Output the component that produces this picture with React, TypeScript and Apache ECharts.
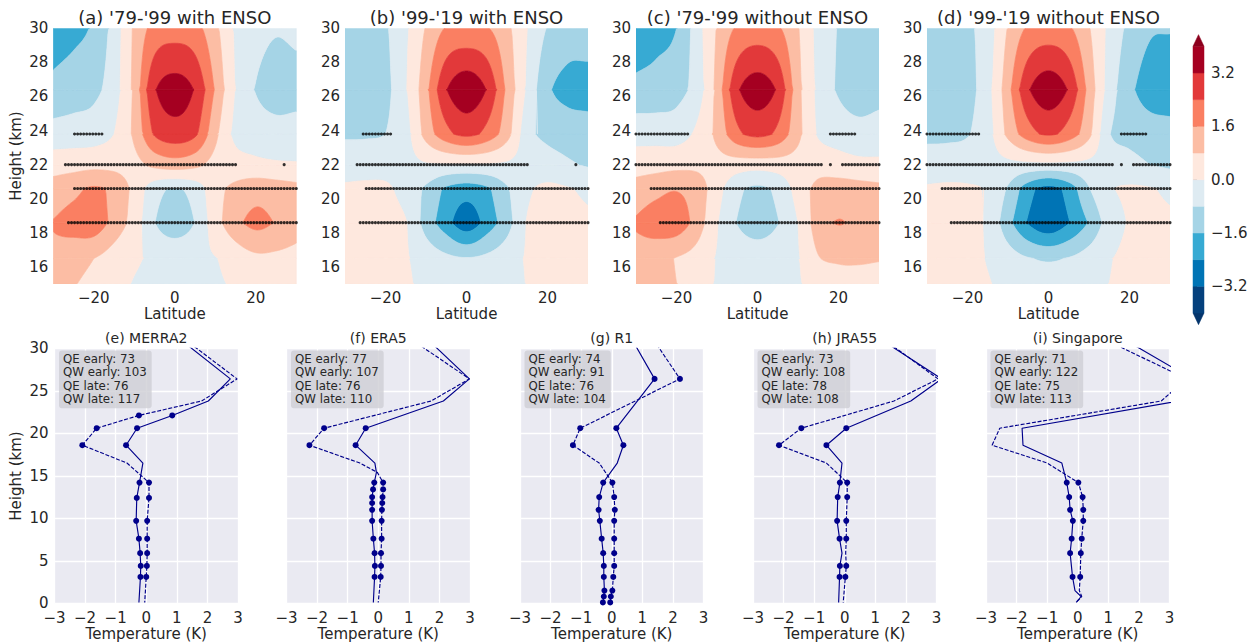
import { useEffect, useRef } from "react";
import * as echarts from "echarts";

// ---------- Regression fields (K) on latitude nodes x pressure-level heights ----------
const LATS = [-30, -25, -20, -15, -10, -5, 0, 5, 10, 15, 20, 25, 30];
const LEVEL_KM = [14.2, 16.5, 18.6, 20.6, 22.0, 23.8, 26.4, 31.0];

// rows run from the lowest level (14.2 km) up to 31 km
const field79to99WithEnso = [
  [0.97, 0.72, 0.42, 0.25, -0.13, -0.18, -0.18, -0.18, -0.14, 0.0, 0.19, 0.25, 0.19],
  [1.45, 1.1, 0.8, 0.4, 0.1, -0.1, -0.1, -0.1, -0.03, 0.3, 0.6, 0.6, 0.5],
  [1.65, 1.95, 2.1, 1.3, 0.45, -0.78, -1.35, -0.78, 0.45, 1.35, 1.85, 1.55, 1.2],
  [1.15, 1.4, 1.7, 1.4, 0.55, -0.5, -0.85, -0.5, 0.5, 1.0, 1.3, 1.2, 1.05],
  [0.45, 0.5, 0.55, 0.55, 0.55, 1.0, 1.22, 1.0, 0.5, 0.3, 0.15, 0.08, 0.05],
  [-0.48, -0.45, -0.4, 0.0, 0.95, 2.5, 2.92, 2.55, 1.0, -0.2, -0.4, -0.5, -0.45],
  [-1.4, -1.2, -1.0, -0.35, 1.0, 3.1, 3.63, 3.12, 1.5, -0.05, -0.85, -1.2, -1.15],
  [-2.2, -2.0, -1.6, -0.5, 0.9, 1.5, 1.55, 1.5, 0.85, -0.1, -0.4, -0.6, -0.45],
];
const field99to19WithEnso = [
  [0.2, 0.25, 0.2, 0.13, -0.15, -0.14, -0.13, -0.14, -0.15, 0.0, 0.12, 0.2, 0.15],
  [0.2, 0.25, 0.2, 0.05, -0.3, -0.6, -0.75, -0.6, -0.3, 0.05, 0.2, 0.2, 0.15],
  [0.25, 0.3, 0.3, 0.05, -1.15, -2.1, -2.97, -2.1, -1.15, 0.05, 0.3, 0.25, 0.15],
  [0.15, 0.2, 0.15, -0.35, -0.95, -1.75, -2.05, -1.75, -0.9, -0.15, 0.15, 0.05, -0.15],
  [-0.45, -0.4, -0.35, -0.25, -0.1, -0.1, -0.1, -0.1, -0.15, -0.3, -0.45, -0.7, -0.88],
  [-0.88, -0.88, -0.8, -0.3, 1.1, 2.15, 2.61, 2.15, 1.1, -0.5, -1.0, -1.15, -1.2],
  [-1.3, -1.25, -1.0, -0.1, 1.35, 3.15, 3.86, 3.15, 1.4, -0.15, -1.45, -1.9, -2.0],
  [-1.17, -1.06, -0.87, -0.1, 0.71, 1.23, 1.09, 1.23, 0.89, 0.04, -0.68, -1.0, -0.9],
];
const field79to99NoEnso = [
  [1.07, 0.95, 0.83, 0.37, -0.05, -0.12, -0.17, -0.12, -0.05, -0.02, 0.21, 0.28, 0.23],
  [1.3, 1.1, 0.75, 0.45, -0.05, -0.2, -0.25, -0.2, -0.05, 0.75, 0.9, 0.9, 0.85],
  [1.7, 2.0, 2.1, 1.25, 0.05, -0.85, -1.3, -0.85, 0.0, 1.2, 1.65, 1.35, 1.1],
  [1.2, 1.4, 1.55, 1.25, 0.3, -0.6, -0.98, -0.6, 0.3, 1.0, 1.15, 1.1, 1.0],
  [0.35, 0.45, 0.55, 0.6, 0.5, 0.35, 0.3, 0.35, 0.45, 0.5, 0.35, 0.2, 0.15],
  [-0.25, -0.3, -0.35, 0.15, 1.0, 2.2, 2.62, 2.2, 1.0, -0.1, -0.4, -0.55, -0.45],
  [-1.45, -1.35, -1.1, -0.45, 1.05, 3.05, 3.7, 3.05, 1.05, -0.2, -0.9, -1.2, -1.1],
  [-2.16, -1.99, -1.74, -0.39, 0.79, 1.32, 1.4, 1.32, 0.79, -0.2, -0.84, -1.07, -0.97],
];
const field99to19NoEnso = [
  [0.2, 0.17, 0.12, 0.1, -0.17, -0.29, -0.31, -0.29, -0.17, 0.03, 0.15, 0.2, 0.15],
  [0.2, 0.25, 0.2, -0.05, -0.4, -0.75, -0.85, -0.75, -0.4, -0.05, 0.15, 0.2, 0.15],
  [0.2, 0.25, 0.2, -0.15, -1.35, -2.5, -3.1, -2.45, -1.55, -0.45, 0.05, 0.2, 0.15],
  [0.1, 0.15, 0.1, -0.1, -0.9, -2.1, -2.7, -2.1, -0.85, -0.1, 0.1, 0.05, -0.15],
  [-0.5, -0.45, -0.4, -0.3, -0.25, -0.22, -0.22, -0.22, -0.25, -0.35, -0.55, -0.8, -0.95],
  [-0.95, -0.95, -0.85, -0.3, 1.0, 2.05, 2.51, 2.05, 1.0, -0.75, -1.05, -1.2, -1.25],
  [-1.3, -1.25, -1.05, -0.3, 1.3, 3.1, 3.79, 3.1, 1.3, -0.35, -1.4, -2.0, -2.15],
  [-1.17, -1.12, -0.92, -0.43, 0.72, 1.31, 1.34, 1.31, 0.72, -0.16, -0.89, -1.36, -1.38],
];

// Significant points on the 0.75 deg grid: [height km, first lat, last lat]
const SIG_GRID_STEP = 0.75;
const sig79to99WithEnso = [
  [23.8, -25.2, -17.8], [22.0, -27.1, 15.3], [22.0, 26.9, 27.2], [20.6, -25.2, 30], [18.6, -26.3, 30],
];
const sig99to19WithEnso = [
  [23.8, -25.5, -18.1], [22.0, -27.3, 15.3], [22.0, 26.9, 27.2], [20.6, -25.3, 30], [18.6, -26.3, 30],
];
const sig79to99NoEnso = [
  [23.8, -30, -17.1], [23.8, 17.7, 24.1], [22.0, -30, 16.1], [22.0, 17.9, 18.1], [22.0, 21.0, 30],
  [20.6, -26.4, 30], [18.6, -24.2, 30],
];
const sig99to19NoEnso = [
  [23.8, -30, -16.9], [23.8, 17.8, 24.2], [22.0, -30, 16.0], [22.0, 17.9, 18.1], [22.0, 20.9, 30],
  [20.6, -26.4, 30], [18.6, -24.3, 30],
];

const CONTOUR_LEVELS = [-4, -3.2, -2.4, -1.6, -0.8, 0, 0.8, 1.6, 2.4, 3.2, 4];
// under, 10 bands, over
const BAND_COLORS = [
  "#04356c", "#05417d", "#0074b5", "#37aad3", "#a5d4e6", "#deebf2",
  "#fee8de", "#fcbda4", "#fa7f62", "#e2393a", "#a50021", "#8c001d",
];
const COLORBAR_TICKS = [-3.2, -1.6, 0, 1.6, 3.2];
const LAT_TICKS = [-20, 0, 20];
const HEIGHT_TICKS = [16, 18, 20, 22, 24, 26, 28, 30];

const TOP_TITLES = [
  "(a) '79-'99 with ENSO",
  "(b) '99-'19 with ENSO",
  "(c) '79-'99 without ENSO",
  "(d) '99-'19 without ENSO",
];

// ---------- Temperature profiles (K) at pressure-level heights (km) ----------
const merra2Km = [31.0, 26.4, 23.8, 22.1, 20.6, 18.6, 16.5, 14.2, 12.4, 9.7, 7.6, 5.9, 4.4, 3.1, 0.1];
const merra2Solid = [1.13, 2.75, 2.03, 0.85, -0.3, -0.66, -0.11, -0.22, -0.31, -0.33, -0.24, -0.2, -0.18, -0.19, -0.24];
const merra2Dashed = [1.28, 2.97, 1.81, -0.24, -1.62, -2.09, -0.63, 0.09, 0.09, 0.03, 0.03, 0.03, 0.02, 0.0, -0.05];
const merra2Sig = [0, 0, 0, 1, 1, 1, 0, 1, 1, 1, 1, 1, 1, 1, 0];

const era5Km = [31.0, 26.4, 23.8, 20.6, 18.6, 16.5, 15.4, 14.2, 13.4, 12.5, 11.8, 11.0, 9.7, 7.6, 5.9, 4.4, 3.1, 0.1];
const era5Solid = [1.63, 2.98, 2.13, -0.41, -0.74, -0.11, -0.06, -0.13, -0.17, -0.2, -0.2, -0.2, -0.2, -0.16, -0.12, -0.11, -0.12, -0.16];
const era5Dashed = [1.1, 2.98, 1.73, -1.77, -2.25, -0.6, -0.03, 0.16, 0.16, 0.14, 0.13, 0.12, 0.11, 0.11, 0.09, 0.09, 0.08, 0.0];
const era5Sig = [0, 0, 0, 1, 1, 0, 0, 1, 1, 1, 1, 1, 1, 1, 1, 1, 1, 0];

const r1Km = [31.0, 26.4, 20.6, 18.6, 16.5, 14.2, 12.5, 11.0, 9.7, 7.6, 5.9, 4.4, 3.1, 1.5, 0.8, 0.1];
const r1Solid = [0.67, 1.4, 0.15, 0.38, 0.18, -0.28, -0.41, -0.43, -0.39, -0.33, -0.28, -0.26, -0.26, -0.24, -0.26, -0.29];
const r1Dashed = [1.37, 2.23, -1.03, -1.27, -0.41, 0.02, 0.08, 0.1, 0.08, 0.08, 0.08, 0.08, 0.05, 0.02, -0.03, -0.05];
const r1Sig = [0, 1, 1, 1, 0, 1, 1, 1, 1, 1, 1, 1, 1, 1, 1, 1];

const jra55Km = [31.0, 26.4, 23.8, 20.6, 18.6, 16.5, 14.2, 12.5, 9.7, 7.6, 5.9, 4.4, 3.1, 0.1];
const jra55Solid = [1.2, 3.17, 2.16, 0.05, -0.6, -0.09, -0.16, -0.23, -0.25, -0.17, -0.09, -0.16, -0.17, -0.2];
const jra55Dashed = [1.3, 3.05, 1.61, -1.42, -2.15, -0.6, 0.08, 0.08, 0.05, 0.05, 0.03, 0.05, 0.02, -0.05];
const jra55Sig = [0, 0, 0, 1, 1, 0, 1, 1, 1, 1, 0, 1, 1, 0];

const singaporeKm = [31.0, 26.4, 23.8, 20.6, 18.6, 16.5, 14.2, 12.5, 11.0, 9.7, 7.6, 5.9, 3.1, 1.5, 0.8, 0.1];
const singaporeSolid = [1.54, 3.74, 3.3, -1.82, -1.79, -0.52, -0.36, -0.28, -0.25, -0.16, -0.2, -0.25, -0.17, -0.09, 0.11, -0.05];
const singaporeDashed = [0.91, 3.56, 2.73, -2.55, -2.8, -1.0, 0.02, 0.16, 0.18, 0.18, 0.13, 0.1, 0.08, 0.05, 0.13, -0.05];
const singaporeSig = [0, 0, 0, 0, 0, 0, 1, 1, 1, 1, 1, 1, 1, 0, 0, 0];

const PROFILE_TITLES = ["(e) MERRA2", "(f) ERA5", "(g) R1", "(h) JRA55", "(i) Singapore"];
const QE_EARLY = [73, 77, 74, 73, 71];
const QW_EARLY = [103, 107, 91, 108, 122];
const QE_LATE = [76, 76, 76, 78, 75];
const QW_LATE = [117, 110, 104, 108, 113];
const TEMP_TICK_STEP = 1;
const HEIGHT_TICK_STEP = 5;

// ---------- layout & style ----------
const W = 1256;
const H = 643;
const TOP_LEFTS = [53.3, 345, 636, 927];
const TOP_W = 243;
const TOP_Y = 28.3;
const TOP_H = 255.7;
const BOT_LEFTS = [54.5, 286.5, 520, 753, 986];
const BOT_W = 183.5;
const BOT_Y = 348.3;
const BOT_H = 255;
const CB = { left: 1193, top: 46.3, width: 11, height: 266.7 };
const INK = "#262626";
const NAVY = "#00008b";
const FONT = '"DejaVu Sans", "Liberation Sans", sans-serif';

const fmtSigned = (v: number, digits = 0) => {
  const s = Math.abs(v).toFixed(digits);
  return v < 0 ? "\u2212" + s : s;
};

// Catmull-Rom evaluation of one level row along latitude
function sampleRow(row: number[], lat: number): number {
  const n = row.length;
  const step = LATS[1] - LATS[0];
  let i = Math.floor((lat - LATS[0]) / step);
  if (i < 0) i = 0;
  if (i > n - 2) i = n - 2;
  const s = (lat - LATS[i]) / step;
  const p0 = row[i];
  const p1 = row[i + 1];
  const m0 = i > 0 ? (row[i + 1] - row[i - 1]) / 2 : row[1] - row[0];
  const m1 = i + 2 < n ? (row[i + 2] - row[i]) / 2 : row[n - 1] - row[n - 2];
  const s2 = s * s;
  const s3 = s2 * s;
  return (2 * s3 - 3 * s2 + 1) * p0 + (s3 - 2 * s2 + s) * m0 + (-2 * s3 + 3 * s2) * p1 + (s3 - s2) * m1;
}

const SAMPLE_LATS: number[] = [];
for (let k = 0; k <= 240; k++) SAMPLE_LATS.push(LATS[0] + k * 0.25);

// Filled-contour strip between two consecutive levels (linear in height)
function contourRenderer(field: number[][], yMin: number, yMax: number) {
  const rows = field.map((r) => SAMPLE_LATS.map((lat) => sampleRow(r, lat)));
  const n = SAMPLE_LATS.length;
  return (params: any, api: any) => {
    const k = params.dataIndex;
    const h0 = LEVEL_KM[k];
    const h1 = LEVEL_KM[k + 1];
    const lo = Math.max(h0, yMin);
    const hi = Math.min(h1, yMax);
    const children: any[] = [];
    if (hi <= lo) return { type: "group", children };
    const tLow = (lo - h0) / (h1 - h0);
    const tHigh = (hi - h0) / (h1 - h0);
    const a = rows[k];
    const b = rows[k + 1];
    for (let band = 0; band < BAND_COLORS.length; band++) {
      const vLo = band === 0 ? -1e6 : CONTOUR_LEVELS[band - 1];
      const vHi = band === BAND_COLORS.length - 1 ? 1e6 : CONTOUR_LEVELS[band];
      const lower: number[] = new Array(n);
      const upper: number[] = new Array(n);
      for (let i = 0; i < n; i++) {
        const av = a[i];
        const d = b[i] - av;
        let t1: number;
        let t2: number;
        if (Math.abs(d) < 1e-9) {
          if (av >= vLo && av < vHi) {
            t1 = tLow;
            t2 = tHigh;
          } else {
            t1 = tLow;
            t2 = tLow;
          }
        } else {
          const x1 = (vLo - av) / d;
          const x2 = (vHi - av) / d;
          t1 = Math.min(x1, x2);
          t2 = Math.max(x1, x2);
        }
        lower[i] = Math.min(Math.max(t1, tLow), tHigh);
        upper[i] = Math.min(Math.max(t2, tLow), tHigh);
      }
      let i = 0;
      while (i < n) {
        if (upper[i] - lower[i] <= 1e-7) {
          i++;
          continue;
        }
        const start = Math.max(i - 1, 0);
        let j = i;
        while (j < n && upper[j] - lower[j] > 1e-7) j++;
        const end = Math.min(j, n - 1);
        const pts: number[][] = [];
        for (let q = start; q <= end; q++) pts.push(api.coord([SAMPLE_LATS[q], h0 + upper[q] * (h1 - h0)]));
        for (let q = end; q >= start; q--) pts.push(api.coord([SAMPLE_LATS[q], h0 + lower[q] * (h1 - h0)]));
        children.push({
          type: "polygon",
          shape: { points: pts },
          style: { fill: BAND_COLORS[band], stroke: BAND_COLORS[band], lineWidth: 0.7, lineJoin: "round" },
          silent: true,
        });
        i = j;
      }
    }
    return { type: "group", children };
  };
}

function sigPoints(segs: number[][]) {
  const pts: number[][] = [];
  for (const [h, a, b] of segs) {
    for (let k = 0; k <= 80; k++) {
      const lat = LATS[0] + k * SIG_GRID_STEP;
      if (lat >= a - 1e-6 && lat <= b + 1e-6) pts.push([lat, h]);
    }
  }
  return pts;
}

function buildOption() {
  const fields = [field79to99WithEnso, field99to19WithEnso, field79to99NoEnso, field99to19NoEnso];
  const sigs = [sig79to99WithEnso, sig99to19WithEnso, sig79to99NoEnso, sig99to19NoEnso];
  const profiles = [
    { km: merra2Km, solid: merra2Solid, dashed: merra2Dashed, sig: merra2Sig },
    { km: era5Km, solid: era5Solid, dashed: era5Dashed, sig: era5Sig },
    { km: r1Km, solid: r1Solid, dashed: r1Dashed, sig: r1Sig },
    { km: jra55Km, solid: jra55Solid, dashed: jra55Dashed, sig: jra55Sig },
    { km: singaporeKm, solid: singaporeSolid, dashed: singaporeDashed, sig: singaporeSig },
  ];

  const grid: any[] = [];
  const xAxis: any[] = [];
  const yAxis: any[] = [];
  const series: any[] = [];
  const graphic: any[] = [];
  const labelStyle = { color: INK, fontSize: 15, fontFamily: FONT, lineHeight: 14 };

  // contour panels
  TOP_LEFTS.forEach((left, p) => {
    grid.push({ left, top: TOP_Y, width: TOP_W, height: TOP_H, show: false });
    xAxis.push({
      type: "value", gridIndex: p, min: -30, max: 30,
      axisLine: { show: false }, axisTick: { show: false }, splitLine: { show: false },
      axisLabel: { ...labelStyle, margin: 7, customValues: LAT_TICKS, formatter: (v: number) => fmtSigned(v) },
    });
    yAxis.push({
      type: "value", gridIndex: p, min: 15, max: 30,
      axisLine: { show: false }, axisTick: { show: false }, splitLine: { show: false },
      axisLabel: { ...labelStyle, margin: 5, customValues: HEIGHT_TICKS },
    });
    series.push({
      type: "custom", xAxisIndex: p, yAxisIndex: p, clip: true, silent: true,
      renderItem: contourRenderer(fields[p], 15, 30),
      data: LEVEL_KM.slice(0, -1).map(() => [0, 20]),
      z: 1,
    });
    series.push({
      type: "scatter", xAxisIndex: p, yAxisIndex: p, silent: true,
      symbolSize: 3.1, itemStyle: { color: "#000000" },
      data: sigPoints(sigs[p]), z: 3,
    });
    const cx = left + TOP_W / 2;
    graphic.push({ type: "text", x: cx, y: 17, style: { text: TOP_TITLES[p], fill: INK, fontSize: 18, fontFamily: FONT, align: "center", verticalAlign: "middle" } });
    graphic.push({ type: "text", x: cx, y: 314, style: { text: "Latitude", fill: INK, fontSize: 15, fontFamily: FONT, align: "center", verticalAlign: "middle" } });
  });

  // colourbar
  const cbIdx = 4;
  grid.push({ left: CB.left, top: CB.top, width: CB.width, height: CB.height, show: false });
  xAxis.push({ type: "value", gridIndex: cbIdx, min: 0, max: 1, show: false });
  yAxis.push({
    type: "value", gridIndex: cbIdx, min: CONTOUR_LEVELS[0], max: CONTOUR_LEVELS[CONTOUR_LEVELS.length - 1], position: "right",
    axisLine: { show: false }, splitLine: { show: false },
    axisTick: { show: true, customValues: COLORBAR_TICKS, length: 4, lineStyle: { color: INK, width: 1 } },
    axisLabel: { ...labelStyle, margin: 7, customValues: COLORBAR_TICKS, formatter: (v: number) => fmtSigned(v, 1) },
  });
  series.push({
    type: "custom", xAxisIndex: cbIdx, yAxisIndex: cbIdx, silent: true, clip: false,
    data: BAND_COLORS.map(() => [0.5, 0]),
    renderItem: (params: any, api: any) => {
      const j = params.dataIndex;
      const last = BAND_COLORS.length - 1;
      const style = { fill: BAND_COLORS[j], stroke: BAND_COLORS[j], lineWidth: 0.5 };
      const ext = 0.35;
      if (j === 0) {
        const v = CONTOUR_LEVELS[0];
        return { type: "polygon", shape: { points: [api.coord([0, v]), api.coord([1, v]), api.coord([0.5, v - ext])] }, style };
      }
      if (j === last) {
        const v = CONTOUR_LEVELS[CONTOUR_LEVELS.length - 1];
        return { type: "polygon", shape: { points: [api.coord([0, v]), api.coord([1, v]), api.coord([0.5, v + ext])] }, style };
      }
      const p0 = api.coord([0, CONTOUR_LEVELS[j - 1]]);
      const p1 = api.coord([1, CONTOUR_LEVELS[j]]);
      return { type: "rect", shape: { x: p0[0], y: p1[1], width: p1[0] - p0[0], height: p0[1] - p1[1] }, style };
    },
  });

  // profile panels
  BOT_LEFTS.forEach((left, i) => {
    const gi = 5 + i;
    grid.push({ left, top: BOT_Y, width: BOT_W, height: BOT_H, show: true, backgroundColor: "#eaeaf2", borderWidth: 0 });
    xAxis.push({
      type: "value", gridIndex: gi, min: -3, max: 3, interval: TEMP_TICK_STEP,
      axisLine: { show: false }, axisTick: { show: false },
      splitLine: { show: true, lineStyle: { color: "#ffffff", width: 1.3 } },
      axisLabel: { ...labelStyle, margin: 8, formatter: (v: number) => fmtSigned(v) },
    });
    yAxis.push({
      type: "value", gridIndex: gi, min: 0, max: 30, interval: HEIGHT_TICK_STEP,
      axisLine: { show: false }, axisTick: { show: false },
      splitLine: { show: true, lineStyle: { color: "#ffffff", width: 1.3 } },
      axisLabel: { ...labelStyle, margin: 6, show: i === 0 },
    });
    const pr = profiles[i];
    const mk = (vals: number[]) =>
      vals.map((t, j) => ({ value: [t, pr.km[j]], symbol: pr.sig[j] ? "circle" : "none" }));
    series.push({
      type: "line", xAxisIndex: gi, yAxisIndex: gi, data: mk(pr.solid), symbolSize: 6, clip: true, silent: true,
      lineStyle: { color: NAVY, width: 1.15 }, itemStyle: { color: NAVY }, z: 3,
    });
    series.push({
      type: "line", xAxisIndex: gi, yAxisIndex: gi, data: mk(pr.dashed), symbolSize: 6, clip: true, silent: true,
      lineStyle: { color: NAVY, width: 1.15, type: [4, 1.7] }, itemStyle: { color: NAVY }, z: 3,
    });
    const cx = left + BOT_W / 2;
    graphic.push({ type: "text", x: cx, y: 337.5, style: { text: PROFILE_TITLES[i], fill: INK, fontSize: 14, fontFamily: FONT, align: "center", verticalAlign: "middle" } });
    graphic.push({ type: "text", x: cx, y: 634, style: { text: "Temperature (K)", fill: INK, fontSize: 15, fontFamily: FONT, align: "center", verticalAlign: "middle" } });
    graphic.push({
      type: "text", x: left + 4.5, y: 350.5, z: 10,
      style: {
        text: [
          `QE early: ${QE_EARLY[i]}`,
          `QW early: ${QW_EARLY[i]}`,
          `QE late: ${QE_LATE[i]}`,
          `QW late: ${QW_LATE[i]}`,
        ].join("\n"),
        fill: INK, fontSize: 11.8, fontFamily: FONT, lineHeight: 13.2,
        backgroundColor: "rgba(206,206,212,0.8)", padding: [2, 5, 3, 4], borderRadius: 3,
        align: "left", verticalAlign: "top",
      },
    });
  });

  graphic.push({ type: "text", x: 16, y: 156, rotation: Math.PI / 2, style: { text: "Height (km)", fill: INK, fontSize: 15, fontFamily: FONT, align: "center", verticalAlign: "middle" } });
  graphic.push({ type: "text", x: 16, y: 476, rotation: Math.PI / 2, style: { text: "Height (km)", fill: INK, fontSize: 15, fontFamily: FONT, align: "center", verticalAlign: "middle" } });

  return {
    animation: false,
    backgroundColor: "#ffffff",
    textStyle: { fontFamily: FONT },
    grid, xAxis, yAxis, series, graphic,
  };
}

export default function App() {
  const ref = useRef<HTMLDivElement>(null);
  useEffect(() => {
    if (!ref.current) return;
    const chart = echarts.init(ref.current, undefined, { renderer: "svg", width: W, height: H });
    chart.setOption(buildOption() as any);
    return () => chart.dispose();
  }, []);
  return <div ref={ref} style={{ position: "fixed", left: 0, top: 0, width: W, height: H, background: "#fff" }} />;
}
